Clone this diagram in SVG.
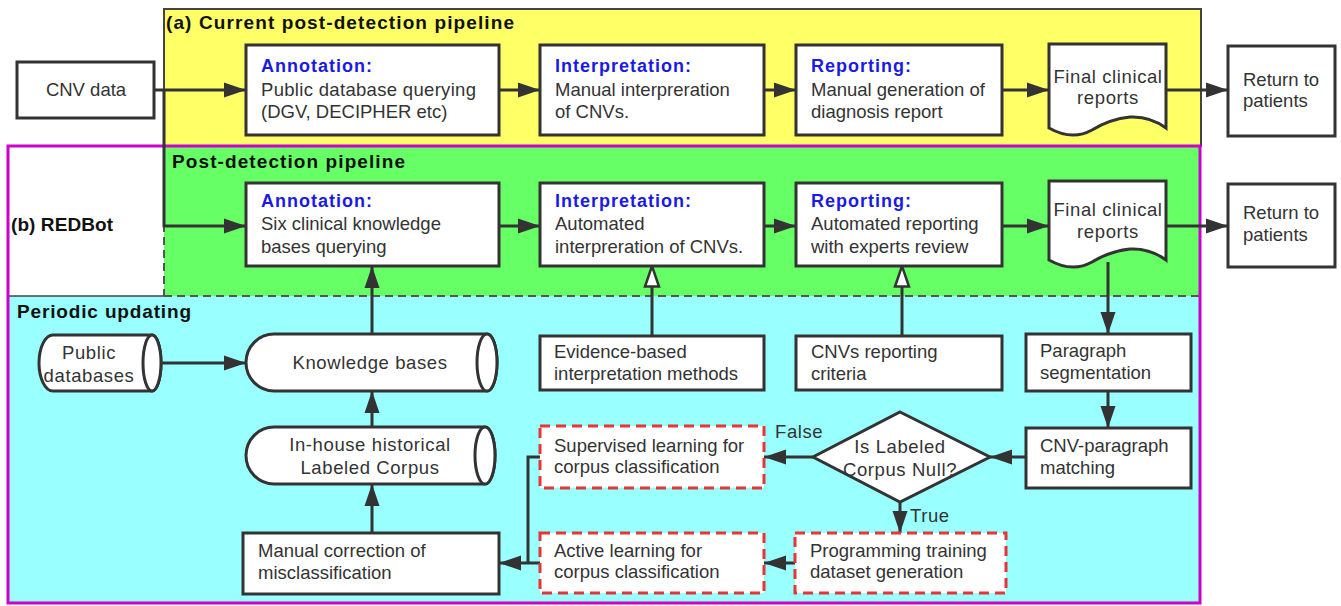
<svg xmlns="http://www.w3.org/2000/svg" width="1341" height="606" viewBox="0 0 1341 606">
<style>
.box{fill:#fff;stroke:#333;stroke-width:3}
.dbox{fill:#fff;stroke:#e53535;stroke-width:3;stroke-dasharray:10 6}
.t{font-family:"Liberation Sans",Arial,sans-serif;font-size:18.5px;fill:#333}
.ts{font-family:"Liberation Sans",Arial,sans-serif;font-size:18.5px;fill:#333;letter-spacing:0.6px}
.h{font-family:"Liberation Sans",Arial,sans-serif;font-size:18px;font-weight:bold;fill:#1a1ae6;letter-spacing:1px}
.hd{font-family:"Liberation Sans",Arial,sans-serif;font-size:19px;font-weight:bold;fill:#111}
.c{fill:none;stroke:#333;stroke-width:3}
</style>
<defs>
<marker id="ah" markerUnits="userSpaceOnUse" markerWidth="24" markerHeight="18" refX="22" refY="8" orient="auto">
<path d="M0,0.5 L22,8 L0,15.5 Z" fill="#333"/>
</marker>
<marker id="oh" markerUnits="userSpaceOnUse" markerWidth="26" markerHeight="20" refX="22" refY="9" orient="auto">
<path d="M1.5,2 L22,9 L1.5,16 Z" fill="#fff" stroke="#333" stroke-width="2.5"/>
</marker>
</defs>

<!-- panels -->
<g id="panels">
<rect x="8" y="296" width="1192" height="307" fill="#99ffff"/>
<rect x="164" y="146" width="1036" height="150" fill="#66ff66"/>
<rect x="164" y="9" width="1037" height="137" fill="#ffff66" stroke="#444" stroke-width="2"/>
<line x1="164" y1="146" x2="164" y2="296" stroke="#555" stroke-width="2" stroke-dasharray="8 5"/>
<line x1="164" y1="296" x2="1200" y2="296" stroke="#555" stroke-width="2" stroke-dasharray="8 5"/>
<line x1="8" y1="296" x2="164" y2="296" stroke="#444" stroke-width="1.5"/>
<rect x="8" y="146" width="1192" height="457" fill="none" stroke="#cc00cc" stroke-width="3"/>
<text class="hd" x="166" y="29" textLength="348" lengthAdjust="spacing">(a) Current post-detection pipeline</text>
<text class="hd" x="172" y="168" textLength="233" lengthAdjust="spacing">Post-detection pipeline</text>
<text class="hd" x="11" y="231" textLength="102" lengthAdjust="spacing">(b) REDBot</text>
<text class="hd" x="17" y="318" textLength="174" lengthAdjust="spacing">Periodic updating</text>
</g>

<!-- connectors -->
<g id="connectors">
<path class="c" d="M154,90 H246" marker-end="url(#ah)"/>
<path class="c" d="M164,90 V226 H246" marker-end="url(#ah)"/>
<path class="c" d="M499,90 H540" marker-end="url(#ah)"/>
<path class="c" d="M764,90 H796" marker-end="url(#ah)"/>
<path class="c" d="M1002,90 H1049" marker-end="url(#ah)"/>
<path class="c" d="M1166,90 H1228" marker-end="url(#ah)"/>
<path class="c" d="M499,226 H540" marker-end="url(#ah)"/>
<path class="c" d="M764,226 H796" marker-end="url(#ah)"/>
<path class="c" d="M1002,226 H1049" marker-end="url(#ah)"/>
<path class="c" d="M1166,226 H1228" marker-end="url(#ah)"/>
<path class="c" d="M372,334 V266" marker-end="url(#ah)"/>
<path class="c" d="M652,336 V266" marker-end="url(#oh)"/>
<path class="c" d="M902,336 V266" marker-end="url(#oh)"/>
<path class="c" d="M1108,262 V334" marker-end="url(#ah)"/>
<path class="c" d="M1108,391 V428" marker-end="url(#ah)"/>
<path class="c" d="M1026,457 H990" marker-end="url(#ah)"/>
<path class="c" d="M813,457 H764" marker-end="url(#ah)"/>
<path class="c" d="M900,502 V533" marker-end="url(#ah)"/>
<path class="c" d="M795,563 H764" marker-end="url(#ah)"/>
<path class="c" d="M540,457 H528 V563" />
<path class="c" d="M540,563 H499" marker-end="url(#ah)"/>
<path class="c" d="M162,363 H246" marker-end="url(#ah)"/>
<path class="c" d="M372,427 V391" marker-end="url(#ah)"/>
<path class="c" d="M372,533 V484" marker-end="url(#ah)"/>
<text class="ts" x="775" y="438">False</text>
<text class="ts" x="910" y="522">True</text>
</g>

<g id="cnv-data">
<rect class="box" x="17" y="62" width="137" height="56"/>
<text class="t" x="86" y="96" text-anchor="middle">CNV data</text>
</g>

<g id="annotation-a">
<rect class="box" x="246" y="45" width="253" height="90"/>
<text class="h" x="261" y="72">Annotation:</text>
<text class="t" x="261" y="96" textLength="215">Public database querying</text>
<text class="t" x="261" y="118">(DGV, DECIPHER etc)</text>
</g>

<g id="interpretation-a">
<rect class="box" x="540" y="45" width="224" height="90"/>
<text class="h" x="555" y="72">Interpretation:</text>
<text class="t" x="555" y="96">Manual interpreration</text>
<text class="t" x="555" y="118">of CNVs.</text>
</g>

<g id="reporting-a">
<rect class="box" x="796" y="45" width="206" height="90"/>
<text class="h" x="811" y="72">Reporting:</text>
<text class="t" x="811" y="96">Manual generation of</text>
<text class="t" x="811" y="118">diagnosis report</text>
</g>

<g id="final-reports-a">
<path class="box" d="M1049,44 H1166 V128 Q1150,116 1130,117 Q1110,119 1092,130 Q1072,141 1049,128 Z"/>
<text class="ts" x="1108" y="83" text-anchor="middle">Final clinical</text>
<text class="ts" x="1108" y="104" text-anchor="middle">reports</text>
</g>

<g id="return-a">
<rect class="box" x="1228" y="46" width="107" height="90"/>
<text class="t" x="1243" y="86">Return to</text>
<text class="t" x="1243" y="107">patients</text>
</g>

<g id="annotation-b">
<rect class="box" x="246" y="183" width="253" height="83"/>
<text class="h" x="261" y="207">Annotation:</text>
<text class="t" x="261" y="230">Six clinical knowledge</text>
<text class="t" x="261" y="253">bases querying</text>
</g>

<g id="interpretation-b">
<rect class="box" x="540" y="183" width="224" height="83"/>
<text class="h" x="555" y="207">Interpretation:</text>
<text class="t" x="555" y="230">Automated</text>
<text class="t" x="555" y="253">interpreration of CNVs.</text>
</g>

<g id="reporting-b">
<rect class="box" x="796" y="183" width="206" height="83"/>
<text class="h" x="811" y="207">Reporting:</text>
<text class="t" x="811" y="230">Automated reporting</text>
<text class="t" x="811" y="253">with experts review</text>
</g>

<g id="final-reports-b">
<path class="box" d="M1049,181 H1166 V260 Q1150,248 1130,249 Q1110,251 1092,262 Q1072,273 1049,260 Z"/>
<text class="ts" x="1108" y="216" text-anchor="middle">Final clinical</text>
<text class="ts" x="1108" y="238" text-anchor="middle">reports</text>
</g>

<g id="return-b">
<rect class="box" x="1228" y="184" width="107" height="83"/>
<text class="t" x="1243" y="219">Return to</text>
<text class="t" x="1243" y="241">patients</text>
</g>

<g id="public-databases">
<path class="box" d="M53,335 H152 A9,28 0 0 1 152,391 H53 A14,28 0 0 1 53,335 Z"/>
<ellipse cx="152" cy="363" rx="9" ry="28" fill="#fff" stroke="#333" stroke-width="3"/>
<text class="ts" x="89" y="359" text-anchor="middle">Public</text>
<text class="ts" x="89" y="382" text-anchor="middle">databases</text>
</g>

<g id="knowledge-bases">
<path class="box" d="M274,334 H487 A10,28.5 0 0 1 487,391 H274 A28,28.5 0 0 1 274,334 Z"/>
<ellipse cx="487" cy="362.5" rx="10" ry="28.5" fill="#fff" stroke="#333" stroke-width="3"/>
<text class="ts" x="370" y="369" text-anchor="middle">Knowledge bases</text>
</g>

<g id="labeled-corpus">
<path class="box" d="M274,427 H485 A10,28.5 0 0 1 485,484 H274 A28,28.5 0 0 1 274,427 Z"/>
<ellipse cx="485" cy="455.5" rx="10" ry="28.5" fill="#fff" stroke="#333" stroke-width="3"/>
<text class="ts" x="370" y="451" text-anchor="middle">In-house historical</text>
<text class="ts" x="370" y="474" text-anchor="middle">Labeled Corpus</text>
</g>

<g id="manual-correction">
<rect class="box" x="243" y="533" width="256" height="61"/>
<text class="t" x="258" y="557">Manual correction of</text>
<text class="t" x="258" y="579">misclassification</text>
</g>

<g id="evidence">
<rect class="box" x="540" y="336" width="224" height="54"/>
<text class="t" x="554" y="358">Evidence-based</text>
<text class="t" x="554" y="380">interpretation methods</text>
</g>

<g id="criteria">
<rect class="box" x="796" y="336" width="206" height="54"/>
<text class="t" x="811" y="358">CNVs reporting</text>
<text class="t" x="811" y="380">criteria</text>
</g>

<g id="paragraph-segmentation">
<rect class="box" x="1026" y="334" width="165" height="57"/>
<text class="t" x="1040" y="357">Paragraph</text>
<text class="t" x="1040" y="379">segmentation</text>
</g>

<g id="cnv-paragraph">
<rect class="box" x="1026" y="428" width="165" height="60"/>
<text class="t" x="1040" y="452">CNV-paragraph</text>
<text class="t" x="1040" y="474">matching</text>
</g>

<g id="decision">
<path class="box" d="M900,412 L990,457 L900,502 L813,457 Z"/>
<text class="ts" x="900" y="453" text-anchor="middle">Is Labeled</text>
<text class="ts" x="900" y="476" text-anchor="middle">Corpus Null?</text>
</g>

<g id="supervised">
<rect class="dbox" x="540" y="426" width="224" height="62"/>
<text class="t" x="554" y="452">Supervised learning for</text>
<text class="t" x="554" y="473">corpus classification</text>
</g>

<g id="active">
<rect class="dbox" x="540" y="533" width="224" height="60"/>
<text class="t" x="554" y="557">Active learning for</text>
<text class="t" x="554" y="578">corpus classification</text>
</g>

<g id="programming">
<rect class="dbox" x="795" y="533" width="211" height="60"/>
<text class="t" x="810" y="557">Programming training</text>
<text class="t" x="810" y="578">dataset generation</text>
</g>
</svg>
